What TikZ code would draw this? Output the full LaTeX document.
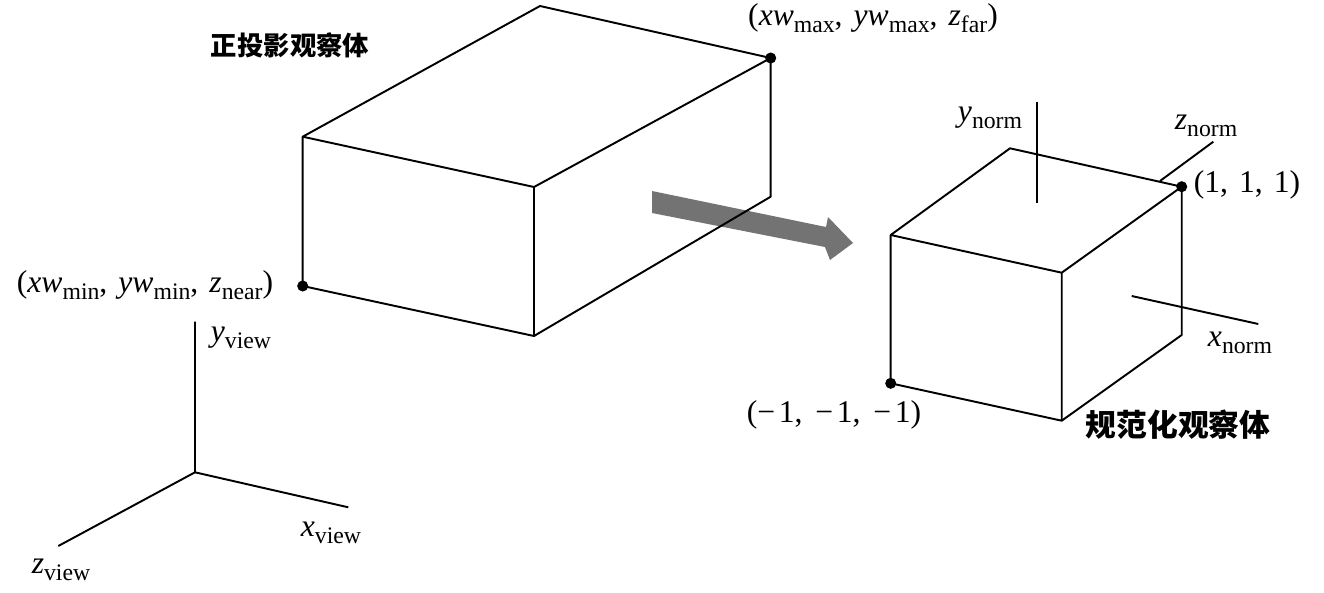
\documentclass[tikz,border=0pt]{standalone}
\usepackage{fontspec}
\setmainfont{Liberation Serif}
\newfontfamily\cjk{Noto Sans CJK SC}
\newcommand{\sbs}[2]{\textit{#1}\raisebox{-0.45ex}{\scalebox{0.75}{#2}}}
\newcommand{\nm}{−\hspace{0.12em}}
\tikzset{
  edge/.style={line width=1.1pt, line join=round},
  lbl/.style={font=\fontsize{18}{21}\selectfont, inner sep=0pt},
  cn/.style={font=\cjk\bfseries\fontsize{15}{18}\selectfont, inner sep=0pt},
  cnb/.style={font=\cjk\bfseries\fontsize{17.5}{20}\selectfont, inner sep=0pt},
  pt/.style={circle, fill=black, inner sep=0pt, minimum size=6.3pt},
  bigarrow/.style={fill=black!55, draw=none}
}
\begin{document}
\begin{tikzpicture}[x=0.02cm, y=-0.02cm]
\useasboundingbox (0,0) rectangle (1324,592);
% arrow
\coordinate (t1) at (652,191);
\coordinate (t2) at (652,213);
\coordinate (s1) at (826,227);
\coordinate (h1) at (828,217);
\coordinate (tip) at (853,243);
\coordinate (h2) at (830,260);
\coordinate (s2) at (825,247);
\fill[bigarrow] (t1) -- (s1) -- (h1) -- (tip) -- (h2) -- (s2) -- (t2) -- cycle;
% big box
\coordinate (A) at (302.7,136.7);
\coordinate (B) at (534,187);
\coordinate (C) at (770.7,58);
\coordinate (D) at (540,6);
\coordinate (E) at (302.7,286);
\coordinate (F) at (534,336);
\coordinate (G) at (770.7,196.7);
\draw[edge] (A) -- (B) -- (C) -- (D) -- cycle;
\draw[edge] (A) -- (E) -- (F) -- (B);
\draw[edge] (F) -- (G) -- (C);
\node[pt] (Cdot) at (C) {};
\node[pt] (Edot) at (E) {};
% small cube
\coordinate (a) at (890.7,235);
\coordinate (b) at (1061.7,272.7);
\coordinate (c) at (1181.7,186.7);
\coordinate (d) at (1010,148.3);
\coordinate (e) at (890.7,383.3);
\coordinate (f) at (1061.7,420.7);
\coordinate (g) at (1181.7,335);
\draw[edge] (a) -- (b) -- (c) -- (d) -- cycle;
\draw[edge] (a) -- (e) -- (f) -- (b);
\draw[edge] (f) -- (g) -- (c);
\node[pt] (cdot) at (c) {};
\node[pt] (edot) at (e) {};
% norm axes
\coordinate (yn1) at (1036.7,101.7);
\coordinate (yn2) at (1036.7,203.3);
\coordinate (zn1) at (1160,181);
\coordinate (zn2) at (1213.3,141.7);
\coordinate (xn1) at (1131.7,296);
\coordinate (xn2) at (1258.3,324);
\draw[edge] (yn1) -- (yn2);
\draw[edge] (zn1) -- (zn2);
\draw[edge] (xn1) -- (xn2);
% view axes
\coordinate (O) at (195,472.3);
\coordinate (yv) at (195,321.7);
\coordinate (xv) at (348.3,507.3);
\coordinate (zv) at (58.3,546);
\draw[edge] (yv) -- (O) -- (xv);
\draw[edge] (O) -- (zv);
% labels
\node[cn] (t1lbl) at (290,45) {正投影观察体};
\node[cnb] (t2lbl) at (1178,425) {规范化观察体};
\node[lbl] (maxl) at (873,18) {(\sbs{xw}{max},\hspace{0.35em}\sbs{yw}{max},\hspace{0.35em}\sbs{z}{far})};
\node[lbl] (minl) at (145,285) {(\sbs{xw}{min},\hspace{0.35em}\sbs{yw}{min},\hspace{0.35em}\sbs{z}{near})};
\node[lbl] (onel) at (1247,185) {(1,\hspace{0.35em}1,\hspace{0.35em}1)};
\node[lbl] (moml) at (834,415) {(\nm 1,\hspace{0.4em}\nm 1,\hspace{0.4em}\nm 1)};
\node[lbl] (ynl) at (990,118) {\sbs{y}{norm}};
\node[lbl] (znl) at (1206,126) {\sbs{z}{norm}};
\node[lbl] (xnl) at (1240,343) {\sbs{x}{norm}};
\node[lbl] (yvl) at (241,338) {\sbs{y}{view}};
\node[lbl] (xvl) at (331,533) {\sbs{x}{view}};
\node[lbl] (zvl) at (61,570) {\sbs{z}{view}};
\end{tikzpicture}
\end{document}
